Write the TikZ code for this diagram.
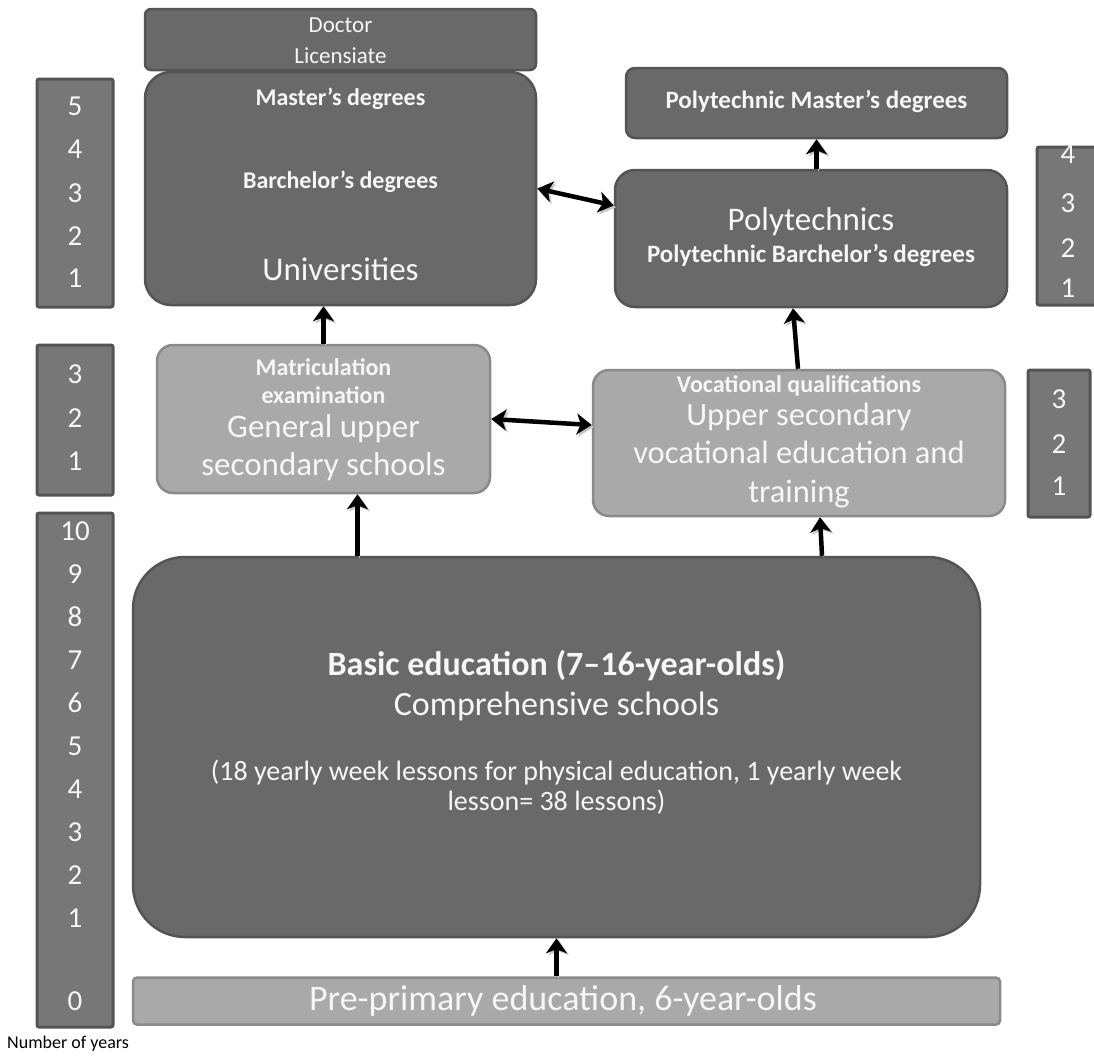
\documentclass[tikz,border=0pt]{standalone}
\usepackage{fontspec}
\setmainfont{Carlito}
\usetikzlibrary{arrows.meta,calc}
\definecolor{darkfill}{HTML}{696969}
\definecolor{darkline}{HTML}{545454}
\definecolor{lightfill}{HTML}{A9A9A9}
\definecolor{lightline}{HTML}{8A8A8A}
\definecolor{colfill}{HTML}{777777}
\definecolor{txt}{HTML}{F6F6F6}
\newcommand\fsz[1]{\fontsize{#1}{#1}\selectfont}
\begin{document}
\begin{tikzpicture}[x=1pt,y=-1pt,
  darkbox/.style={draw=darkline, fill=darkfill, line width=2.5pt, inner sep=0pt},
  lightbox/.style={draw=lightline, fill=lightfill, line width=2.5pt, inner sep=0pt},
  yearcol/.style={draw=darkline, fill=colfill, line width=3pt, inner sep=0pt, rounded corners=2pt},
  lbl/.style={text=txt, inner sep=0pt, anchor=mid, yshift=-3pt},
  num/.style={lbl, font=\fsz{29}},
  tip/.tip={Stealth[length=15pt,width=21pt,inset=4pt]},
  arr/.style={draw=black, line width=4.5pt, -tip,
    preaction={draw=black!22, transform canvas={shift={(2pt,-2pt)}}}},
  darr/.style={draw=black, line width=4.5pt, tip-tip,
    preaction={draw=black!22, transform canvas={shift={(2pt,-2pt)}}}}
]
\useasboundingbox (0,0) rectangle (1094,1055);
\clip (0,0) rectangle (1094,1055);

% year columns
\node[yearcol, minimum width=76pt, minimum height=228pt] (c1) at (75,193) {};
\node[yearcol, minimum width=76pt, minimum height=150pt] (c2) at (75,420) {};
\node[yearcol, minimum width=76pt, minimum height=514pt] (c3) at (75,770) {};
\node[yearcol, minimum width=64pt, minimum height=158pt] (c4) at (1069,226) {};
\node[yearcol, minimum width=62pt, minimum height=147pt] (c5) at (1059,443.5) {};

\node[num] (c1n5) at (75,110) {5};
\node[num] (c1n4) at (75,153) {4};
\node[num] (c1n3) at (75,197) {3};
\node[num] (c1n2) at (75,240) {2};
\node[num] (c1n1) at (75,282) {1};

\node[num] (c2n3) at (75,378) {3};
\node[num] (c2n2) at (75,422) {2};
\node[num] (c2n1) at (75,465) {1};

\node[num] (c3n10) at (75,535) {10};
\node[num] (c3n9) at (75,578) {9};
\node[num] (c3n8) at (75,621) {8};
\node[num] (c3n7) at (75,664) {7};
\node[num] (c3n6) at (75,707) {6};
\node[num] (c3n5) at (75,750) {5};
\node[num] (c3n4) at (75,793) {4};
\node[num] (c3n3) at (75,836) {3};
\node[num] (c3n2) at (75,879) {2};
\node[num] (c3n1) at (75,922) {1};
\node[num] (c3n0) at (75,1005) {0};

\node[num] (c4n4) at (1068,158) {4};
\node[num] (c4n3) at (1068,207) {3};
\node[num] (c4n2) at (1068,252) {2};
\node[num] (c4n1) at (1068,292) {1};

\node[num] (c5n3) at (1059,403) {3};
\node[num] (c5n2) at (1059,448) {2};
\node[num] (c5n1) at (1059,490) {1};

% boxes
\node[darkbox, rounded corners=6pt, minimum width=391pt, minimum height=61pt] (doc) at (340.5,39.5) {};
\node[darkbox, rounded corners=26pt, minimum width=391pt, minimum height=233pt] (univ) at (340.5,188.5) {};
\node[darkbox, rounded corners=9pt, minimum width=381pt, minimum height=70pt] (polym) at (816.5,103) {};
\node[darkbox, rounded corners=20pt, minimum width=392pt, minimum height=137pt] (poly) at (811,238.5) {};
\node[lightbox, rounded corners=16pt, minimum width=333pt, minimum height=148pt] (gen) at (323.5,419) {};
\node[lightbox, rounded corners=16pt, minimum width=412pt, minimum height=146pt] (voc) at (799,443) {};
\node[darkbox, rounded corners=52pt, minimum width=847pt, minimum height=380pt] (basic) at (556.5,747) {};
\node[lightbox, rounded corners=4pt, minimum width=867pt, minimum height=47pt] (pre) at (566.5,1001) {};

% texts
\node[lbl, font=\fsz{23}] (tdoc) at (340.5,27) {Doctor};
\node[lbl, font=\fsz{23}] (tlic) at (340.5,58) {Licensiate};
\node[lbl, font=\bfseries\fsz{24}] (tmas) at (340.5,100) {Master’s degrees};
\node[lbl, font=\bfseries\fsz{24}] (tbar) at (340.5,183) {Barchelor’s degrees};
\node[lbl, font=\fsz{33}] (tuni) at (340.5,275) {Universities};

\node[lbl, font=\bfseries\fsz{25}] (tpm) at (816.5,103) {Polytechnic Master’s degrees};
\node[lbl, font=\fsz{33}] (tpol) at (811,225) {Polytechnics};
\node[lbl, font=\bfseries\fsz{25}] (tpb) at (811,257) {Polytechnic Barchelor’s degrees};

\node[lbl, font=\bfseries\fsz{24}] (tmat) at (323.5,370) {Matriculation};
\node[lbl, font=\bfseries\fsz{24}] (texa) at (323.5,398) {examination};
\node[lbl, font=\fsz{33}] (tgen) at (323.5,432) {General upper};
\node[lbl, font=\fsz{33}] (tsec) at (323.5,470) {secondary schools};

\node[lbl, font=\bfseries\fsz{24}] (tvq) at (799,387) {Vocational qualifications};
\node[lbl, font=\fsz{32.5}] (tus) at (799,420) {Upper secondary};
\node[lbl, font=\fsz{32.5}] (tved) at (799,458) {vocational education and};
\node[lbl, font=\fsz{32.5}] (ttr) at (799,497) {training};

\node[lbl, font=\bfseries\fsz{34}] (tbas) at (556.5,670) {Basic education (7–16-year-olds)};
\node[lbl, font=\fsz{34}] (tcom) at (556.5,710) {Comprehensive schools};
\node[lbl, font=\fsz{28}] (tl1) at (556.5,775) {(18 yearly week lessons for physical education, 1 yearly week};
\node[lbl, font=\fsz{28}] (tl2) at (556.5,805) {lesson= 38 lessons)};

\node[lbl, font=\fsz{36}] (tpre) at (563,1005) {Pre-primary education, 6-year-olds};

\node[inner sep=0pt, anchor=mid west, font=\fsz{18}, text=black] (tny) at (7,1046) {Number of years};

% arrows
\draw[arr] (gen.north) -- (gen.north |- univ.south);
\coordinate (a1) at ($(gen.south)+(34,0)$);
\draw[arr] (a1 |- basic.north) -- (a1);
\coordinate (a2) at ($(voc.south)+(21,0)$);
\draw[arr] ($(a2 |- basic.north)+(2,0)$) -- (a2);
\draw[arr] ($(voc.north)+(-1,0)$) -- ($(poly.south)+(-18,0)$);
\draw[arr] (polym.south |- poly.north) -- (polym.south);
\draw[arr] (basic.south |- pre.north) -- (basic.south);
\draw[darr] (univ.east) -- ($(poly.west)+(0,-33)$);
\draw[darr] (gen.east) -- ($(voc.west)+(0,-18)$);
\end{tikzpicture}
\end{document}
